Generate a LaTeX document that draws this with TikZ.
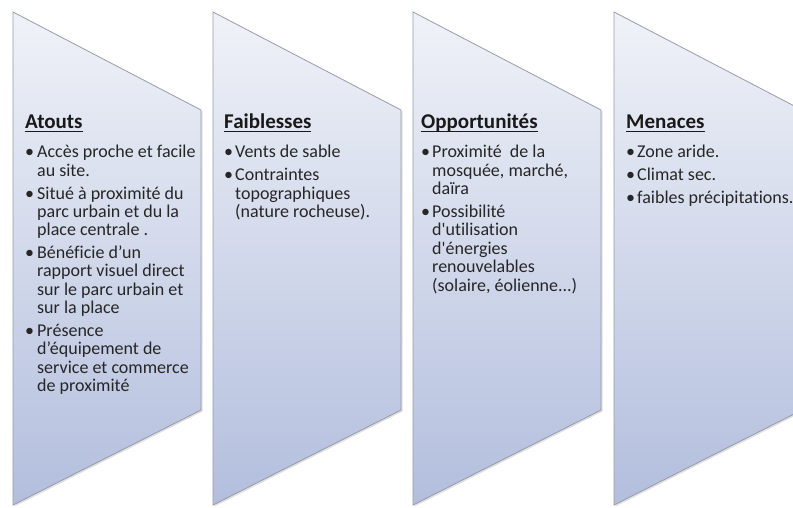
\documentclass[tikz,border=0pt]{standalone}
\usepackage{fontspec}
\setmainfont{Carlito}[Ligatures=NoCommon,Contextuals=NoAlternate]
\usetikzlibrary{shadows}

\definecolor{chevhaut}{RGB}{240,242,248}
\definecolor{chevbas}{RGB}{178,190,221}
\definecolor{chevbord}{RGB}{150,156,170}

% titre souligne (trait epais, a hauteur fixe)
\newcommand{\titre}[1]{\setbox0\hbox{#1}\rlap{\rule[-3pt]{\wd0}{1.4pt}}\box0}
\newcommand{\pc}{\textbullet}

\begin{document}
\begin{tikzpicture}[x=1pt,y=1pt,
    chevron/.style={top color=chevhaut, bottom color=chevbas, draw=chevbord, line width=0.8pt,
      drop shadow={shadow xshift=1.5pt, shadow yshift=-1.5pt, opacity=0.25}},
    entete/.style={anchor=base west, inner sep=0pt, font=\fontsize{21}{21}\selectfont\bfseries, text=black!90},
    liste/.style={anchor=base west, inner sep=0pt, font=\fontsize{18}{18.4}\selectfont, text=black!85}]
    \useasboundingbox (0,0) rectangle (793,507);
    \clip (0,0) rectangle (793,507);

    % Chevrons
    \foreach \x in {13,213,413,614} {
        \path[chevron] (\x,495) -- (\x+188,397) -- (\x+188,97) -- (\x,2) -- cycle;
    }

    % Atouts
    \node[entete] (titre1) at (25,378) {\titre{Atouts}};
    \node[liste] (liste1) at (25,349) {\begin{tabular}[t]{@{}p{12pt}@{}l@{}}
        \pc & Accès proche et facile\\
            & au site.\\[4.3pt]
        \pc & Situé à proximité du\\
            & parc urbain et du la\\
            & place centrale .\\[4.3pt]
        \pc & Bénéficie d’un\\
            & rapport visuel direct\\
            & sur le parc urbain et\\
            & sur la place\\[4.3pt]
        \pc & Présence\\
            & d’équipement de\\
            & service et commerce\\
            & de proximité
    \end{tabular}};

    % Faiblesses
    \node[entete] (titre2) at (224,378) {\titre{Faiblesses}};
    \node[liste] (liste2) at (224,349) {\begin{tabular}[t]{@{}p{11pt}@{}l@{}}
        \pc & Vents de sable\\[4.3pt]
        \pc & Contraintes\\
            & topographiques\\
            & (nature rocheuse).
    \end{tabular}};

    % Opportunites
    \node[entete] (titre3) at (421,378) {\titre{Opportunités}};
    \node[liste] (liste3) at (421,349) {\begin{tabular}[t]{@{}p{11pt}@{}l@{}}
        \pc & Proximité~ de la\\
            & mosquée, marché,\\
            & daïra\\[4.3pt]
        \pc & Possibilité\\
            & d\textquotesingle utilisation\\
            & d\textquotesingle énergies\\
            & renouvelables\\
            & (solaire, éolienne...)
    \end{tabular}};

    % Menaces
    \node[entete] (titre4) at (626,378) {\titre{Menaces}};
    \node[liste] (liste4) at (626,349) {\begin{tabular}[t]{@{}p{11pt}@{}l@{}}
        \pc & Zone aride.\\[4.3pt]
        \pc & Climat sec.\\[4.3pt]
        \pc & faibles précipitations.
    \end{tabular}};
\end{tikzpicture}
\end{document}
